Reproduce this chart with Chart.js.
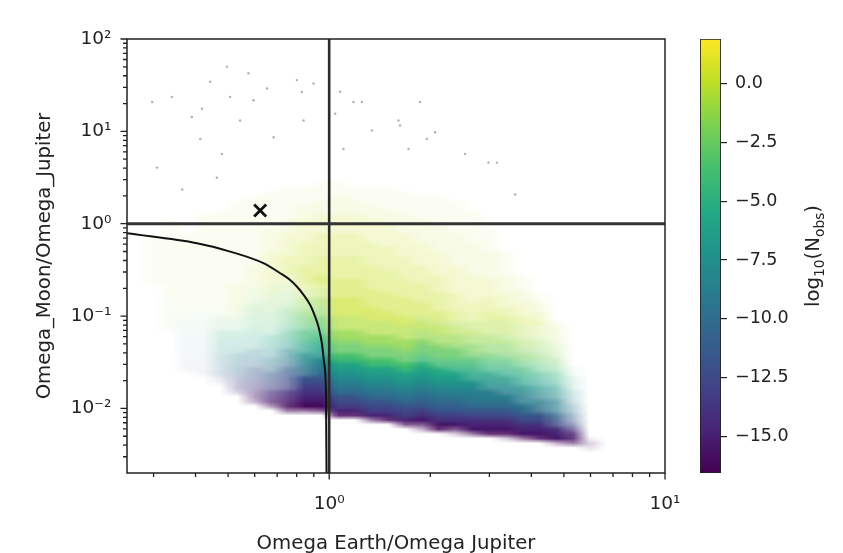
<!DOCTYPE html>
<html>
<head>
<meta charset="utf-8">
<title>Omega_Moon/Omega_Jupiter vs Omega Earth/Omega Jupiter</title>
<script src="https://cdn.jsdelivr.net/npm/chart.js@4.4.1/dist/chart.umd.min.js"></script>
<style>
  html, body { margin: 0; padding: 0; background: #fff; }
  #wrap { position: relative; width: 843px; height: 553px; overflow: hidden; }
  #main { position: absolute; left: 0; top: 0; }
  #cbar { position: absolute; left: 680px; top: 0; }
</style>
</head>
<body>
<div id="wrap">
  <canvas id="main" width="843" height="553"></canvas>
  <canvas id="cbar" width="163" height="553"></canvas>
</div>
<script>
// ---- axis ranges and ticks ----
const xMin = 0.25, xMax = 10;
const yMin = 0.002, yMax = 100;
const cbMin = -16.54, cbMax = 1.88;

const xMajor = [1, 10];
const xMinor = [0.3, 0.4, 0.5, 0.6, 0.7, 0.8, 0.9, 2, 3, 4, 5, 6, 7, 8, 9];
const yMajor = [0.01, 0.1, 1, 10, 100];
const yMinor = [0.003, 0.004, 0.005, 0.006, 0.007, 0.008, 0.009,
                0.02, 0.03, 0.04, 0.05, 0.06, 0.07, 0.08, 0.09,
                0.2, 0.3, 0.4, 0.5, 0.6, 0.7, 0.8, 0.9,
                2, 3, 4, 5, 6, 7, 8, 9,
                20, 30, 40, 50, 60, 70, 80, 90];
const cbTicks = [-15, -12.5, -10, -7.5, -5, -2.5, 0];

// ---- reference lines, boundary curve, observed point ----
const refLineX = 1;
const refLineY = 1;
const curveX = [0.25, 0.404, 0.507, 0.637, 0.715, 0.765, 0.801, 0.839, 0.878, 0.908, 0.929, 0.951, 0.966, 0.978, 0.980, 0.982];
const curveY = [0.789, 0.615, 0.499, 0.374, 0.291, 0.246, 0.209, 0.170, 0.132, 0.0988, 0.077, 0.0509, 0.0309, 0.01465, 0.00586, 0.002];
const crossX = [0.623];
const crossY = [1.39];

// ---- isolated samples far above the cloud ----
const sparseX = [0.297, 0.340, 0.418, 0.442, 0.496, 0.507, 0.575, 0.595, 0.653, 0.683, 0.801, 0.829, 0.898,
                 0.413, 0.479, 0.390, 0.543, 0.307, 0.365, 0.463, 0.839, 1.078, 1.181, 1.251, 1.042, 1.34,
                 1.607, 1.865, 1.626, 1.953, 2.068, 2.54, 2.98, 3.16, 1.103, 1.722, 3.58];
const sparseY = [20.8, 23.6, 17.6, 34.4, 50.2, 23.6, 42.5, 21.7, 29.1, 8.62, 35.9, 26.7, 33.0,
                 8.28, 5.68, 14.3, 13.1, 4.05, 2.35, 3.15, 13.1, 26.8, 20.8, 20.8, 15.5, 10.2,
                 13.1, 20.8, 11.6, 8.28, 9.78, 5.68, 4.59, 4.59, 6.44, 6.44, 2.07];

// ---- the sample cloud, binned in log10 space (0.05 dex cells) ----
// column i covers log10(x) in [gridX0 + i*step, gridX0 + (i+1)*step]
// each column string starts at bin colStart[i] (counted from log10(y) = gridY0) and goes upward
const gridX0 = -0.6, gridY0 = -2.5, gridStep = 0.05, gridCols = 29, gridRows = 62;
const colStart = [0, 37, 27, 18, 17, 15, 13, 11, 10, 9, 9, 9, 8, 8, 7, 7, 6, 5, 5, 4, 4, 4, 3, 3, 3, 2, 2, 1];
// colour code per cell (last code holds for the rest of the column)
const colValues = [
  '',
  'm',
  'kkkkllllm',
  '789abcdefghijklm',
  '6789abcdefghijklm',
  '56789abcdefghijklm',
  '3456789abcdefghijklm',
  '0123456789abcdefghhiijjkkm',
  '0123456789abcdefghhiijjkkllm',
  '001234556789abcdeffghhiijjkkllm',
  '0012345689abcdefgghiijjkkllm',
  '0012345689abcdefgghiijjkkllm',
  '0245689abcdeghiijkklllm',
  '0245689abcdeghiijkklllm',
  '0245689abcdeghiijkklllm',
  '0245689abcdeghiijkklllm',
  '0245689abcdeghiijkklllm',
  '001346789abcdefghiijkklllm',
  '01346789abcdefghiijkklllm',
  '001346789abcdefghiijkklllm',
  '01235689aabcdefghijjkklllm',
  '01235689aabcdefghijjkklllm',
  '001235689aabcdefghijjkklllm',
  '01235689aabcdefghijjkklllm',
  '01235689aabcdefghijjkklllm',
  '01235689aabcdefghijjkklllm',
  '01235689aabcdefgh',
  '012'
];
// how densely each cell is filled (0 empty .. 9 solid)
const colDensity = [
  '',
  '1111111111',
  '111111111111111111111111',
  '111111111111111111111111111111',
  '11111111111111111111111111111111111',
  '123333333333222111' + '11111111111111111111',
  '34444444433333222222' + '2222111111111111111111',
  '4555555544443333333333222' + '22222111111111111111',
  '577766665554444433333333333' + '33333332222211111111',
  '688887777766665555444443333333' + '44443333322' + '21111111',
  '6999999988888777776666555444' + '5555444443333' + '32221111',
  '7999999999998888877776666555' + '6655554444433' + '332221111',
  '8' + '9999999999999' + '88888' + '7777' + '7776666555554444433' + '332222111',
  '8' + '9999999999999' + '88888' + '7777' + '7776666555554444433' + '33222111',
  '6' + '9999999999999' + '88888' + '7777' + '77666655555444443333' + '32221111',
  '8' + '9999999999999' + '88888' + '7777' + '76666555554444433333' + '22211111',
  '7' + '9999999999999' + '88888' + '7777' + '766665555444443333322' + '2211111',
  '47' + '9999999999999' + '88888' + '7777' + '666655554444333332222' + '211111',
  '8' + '9999999999999' + '88888' + '7777' + '6665555444433333222222' + '111111',
  '37' + '999999999999' + '88888' + '777' + '66' + '5554444333333222222211' + '11111',
  '6' + '99999999999' + '88888' + '777' + '666' + '55444433333322222221111' + '111',
  '8999999999888877776666555' + '55444333322222211111',
  '38999999998888777766665555' + '544333222211111',
  '6999999988887777666555444' + '44333222111',
  '8999998887776665555444333' + '4332211',
  '4999888777666555444333222' + '21',
  '68876554433322211',
  '231'
];
const levelChars = '0123456789abcdefghijklmn';
const levelValues = [-16.2, -15.45, -14.7, -13.95, -13.2, -12.45, -11.7, -10.95, -10.2, -9.45, -8.7, -7.95,
                     -7.2, -6.45, -5.7, -4.95, -4.2, -3.45, -2.7, -1.95, -1.2, -0.45, 0.3, 1.05];
const densityAlpha = [0, 0.06, 0.12, 0.2, 0.3, 0.4, 0.52, 0.65, 0.82, 1];

// ---- colour map ----
const viridisStops = ['#440154', '#482475', '#414487', '#355f8d', '#2a788e', '#21918c',
                      '#22a884', '#44bf70', '#7ad151', '#bddf26', '#fde725'];
const viridisRgb = viridisStops.map(h => [1, 3, 5].map(p => parseInt(h.substr(p, 2), 16)));

function viridis(t) {
  t = Math.max(0, Math.min(1, t));
  const n = viridisRgb.length - 1;
  const f = t * n;
  const i = Math.min(Math.floor(f), n - 1);
  const u = f - i;
  const a = viridisRgb[i], b = viridisRgb[i + 1];
  return a.map((c, j) => Math.round(c + (b[j] - c) * u));
}

const FONT = 'DejaVu Sans';
const INK = '#222';
Chart.defaults.font.family = FONT;
Chart.defaults.color = INK;

const supMap = { '-': '\u207b', '0': '\u2070', '1': '\u00b9', '2': '\u00b2', '3': '\u00b3' };
function powLabel(v) {
  const e = Math.round(Math.log10(v));
  return '10' + String(e).split('').map(c => supMap[c]).join('');
}

// paint the binned cloud once, one pixel per cell
function buildCloudImage() {
  const off = document.createElement('canvas');
  off.width = gridCols;
  off.height = gridRows;
  const octx = off.getContext('2d');
  const img = octx.createImageData(gridCols, gridRows);
  colStart.forEach((start, i) => {
    const vals = colValues[i];
    const dens = colDensity[i];
    for (let j = 0; j < dens.length; j++) {
      const alpha = densityAlpha[+dens[j]];
      const k = start + j;
      if (!alpha || k >= gridRows) continue;
      const code = vals[j] || vals[vals.length - 1];
      const rgb = viridis((levelValues[levelChars.indexOf(code)] - cbMin) / (cbMax - cbMin));
      const p = ((gridRows - 1 - k) * gridCols + i) * 4;
      img.data[p] = rgb[0];
      img.data[p + 1] = rgb[1];
      img.data[p + 2] = rgb[2];
      img.data[p + 3] = Math.round(alpha * 255);
    }
  });
  octx.putImageData(img, 0, 0);
  return off;
}
const cloudImage = buildCloudImage();

// cloud drawn under the lines, placed through the chart's scales
const cloudCells = {
  id: 'cloudCells',
  beforeDatasetsDraw(chart) {
    const { ctx, chartArea: area, scales: { x, y } } = chart;
    const left = x.getPixelForValue(Math.pow(10, gridX0));
    const right = x.getPixelForValue(Math.pow(10, gridX0 + gridCols * gridStep));
    const bottom = y.getPixelForValue(Math.pow(10, gridY0));
    const top = y.getPixelForValue(Math.pow(10, gridY0 + gridRows * gridStep));
    ctx.save();
    ctx.beginPath();
    ctx.rect(area.left, area.top, area.width, area.height);
    ctx.clip();
    ctx.imageSmoothingEnabled = true;
    ctx.imageSmoothingQuality = 'low';
    ctx.drawImage(cloudImage, left, top, right - left, bottom - top);
    ctx.restore();
  }
};

// frame and matplotlib style tick marks
const frameTicks = {
  id: 'frameTicks',
  afterDatasetsDraw(chart) {
    const { ctx, chartArea: a, scales: { x, y } } = chart;
    ctx.save();
    ctx.strokeStyle = INK;
    ctx.lineWidth = 1.3;
    ctx.beginPath();
    const tickX = (v, len) => { const p = x.getPixelForValue(v); ctx.moveTo(p, a.bottom); ctx.lineTo(p, a.bottom + len); };
    const tickY = (v, len) => { const p = y.getPixelForValue(v); ctx.moveTo(a.left, p); ctx.lineTo(a.left - len, p); };
    xMajor.forEach(v => tickX(v, 6.5));
    xMinor.forEach(v => tickX(v, 4));
    yMajor.forEach(v => tickY(v, 6.5));
    yMinor.forEach(v => tickY(v, 4));
    ctx.stroke();
    ctx.lineWidth = 1.5;
    ctx.strokeRect(a.left, a.top, a.width, a.height);
    ctx.restore();
  }
};

const toPoints = (xs, ys) => xs.map((v, i) => ({ x: v, y: ys[i] }));

new Chart(document.getElementById('main'), {
  type: 'scatter',
  data: {
    datasets: [
      {
        label: 'observed',
        data: toPoints(crossX, crossY),
        pointStyle: 'crossRot',
        pointRadius: 8.5,
        borderColor: '#111',
        backgroundColor: '#111',
        borderWidth: 2.8,
        order: 1
      },
      {
        label: 'boundary',
        data: toPoints(curveX, curveY),
        showLine: true,
        pointRadius: 0,
        borderColor: '#111',
        borderWidth: 2,
        cubicInterpolationMode: 'monotone',
        order: 2
      },
      {
        label: 'y = 1',
        data: [{ x: xMin, y: refLineY }, { x: xMax, y: refLineY }],
        showLine: true,
        pointRadius: 0,
        borderColor: '#333',
        borderWidth: 3,
        order: 3
      },
      {
        label: 'x = 1',
        data: [{ x: refLineX, y: yMin }, { x: refLineX, y: yMax }],
        showLine: true,
        pointRadius: 0,
        borderColor: '#2a2a2a',
        borderWidth: 2.6,
        order: 4
      },
      {
        label: 'sparse samples',
        data: toPoints(sparseX, sparseY),
        pointRadius: 1.2,
        borderWidth: 0,
        backgroundColor: 'rgba(95,95,110,0.5)',
        order: 5
      }
    ]
  },
  options: {
    responsive: false,
    animation: false,
    events: [],
    layout: { padding: { top: 39, right: 178, bottom: 0, left: 0 } },
    plugins: { legend: { display: false }, tooltip: { enabled: false } },
    scales: {
      x: {
        type: 'logarithmic',
        min: xMin,
        max: xMax,
        afterBuildTicks: s => { s.ticks = xMajor.map(v => ({ value: v })); },
        afterFit: s => { s.height = 80; },
        grid: { display: false, drawTicks: false },
        border: { display: false },
        ticks: {
          callback: v => powLabel(v),
          autoSkip: false,
          maxRotation: 0,
          padding: 20,
          font: { size: 18.5 },
          color: INK
        },
        title: {
          display: true,
          text: 'Omega Earth/Omega Jupiter',
          font: { size: 19.7, lineHeight: 0.9 },
          color: INK,
          padding: { top: 0, bottom: 0 }
        }
      },
      y: {
        type: 'logarithmic',
        min: yMin,
        max: yMax,
        afterBuildTicks: s => { s.ticks = yMajor.map(v => ({ value: v })); },
        afterFit: s => { s.width = 127; },
        grid: { display: false, drawTicks: false },
        border: { display: false },
        ticks: {
          callback: v => powLabel(v),
          autoSkip: false,
          padding: 15.5,
          font: { size: 18.5 },
          color: INK
        },
        title: {
          display: true,
          text: 'Omega_Moon/Omega_Jupiter',
          font: { size: 19.7, lineHeight: 1 },
          color: INK,
          padding: { top: 35, bottom: 0 }
        }
      }
    }
  },
  plugins: [cloudCells, frameTicks]
});

// ---- colour bar ----
const cbTitle = {
  id: 'cbTitle',
  afterDraw(chart) {
    const ctx = chart.ctx;
    const parts = [['log', 19.7, 0], ['10', 13.8, 4.5], ['(N', 19.7, 0], ['obs', 13.8, 4.5], [')', 19.7, 0]];
    ctx.save();
    let total = 0;
    parts.forEach(p => { ctx.font = p[1] + 'px "' + FONT + '"'; p.push(ctx.measureText(p[0]).width); total += p[3]; });
    ctx.translate(139, 256);
    ctx.rotate(-Math.PI / 2);
    ctx.fillStyle = INK;
    ctx.textBaseline = 'alphabetic';
    let cx = -total / 2;
    parts.forEach(p => {
      ctx.font = p[1] + 'px "' + FONT + '"';
      ctx.fillText(p[0], cx, p[2]);
      cx += p[3];
    });
    ctx.restore();
  }
};

new Chart(document.getElementById('cbar'), {
  type: 'bar',
  data: {
    labels: [''],
    datasets: [{
      label: 'log10(N_obs)',
      data: [[cbMin, cbMax]],
      backgroundColor: c => {
        const area = c.chart.chartArea;
        if (!area) return null;
        const g = c.chart.ctx.createLinearGradient(0, area.bottom, 0, area.top);
        viridisStops.forEach((col, i) => g.addColorStop(i / (viridisStops.length - 1), col));
        return g;
      },
      borderColor: INK,
      borderWidth: 1.2,
      borderSkipped: false,
      barPercentage: 1,
      categoryPercentage: 1
    }]
  },
  options: {
    responsive: false,
    animation: false,
    events: [],
    layout: { padding: { top: 39, right: 0, bottom: 80, left: 20 } },
    plugins: { legend: { display: false }, tooltip: { enabled: false } },
    scales: {
      x: { display: false },
      y: {
        position: 'right',
        min: cbMin,
        max: cbMax,
        afterBuildTicks: s => { s.ticks = cbTicks.map(v => ({ value: v })); },
        afterFit: s => { s.width = 122; },
        grid: { display: true, drawOnChartArea: false, drawTicks: true, tickLength: 6, color: INK, lineWidth: 1.2 },
        border: { display: false },
        ticks: {
          callback: v => (v < 0 ? '\u2212' : '') + Math.abs(v).toFixed(1),
          padding: 8,
          font: { size: 17.5 },
          color: INK
        }
      }
    }
  },
  plugins: [cbTitle]
});
</script>
</body>
</html>
